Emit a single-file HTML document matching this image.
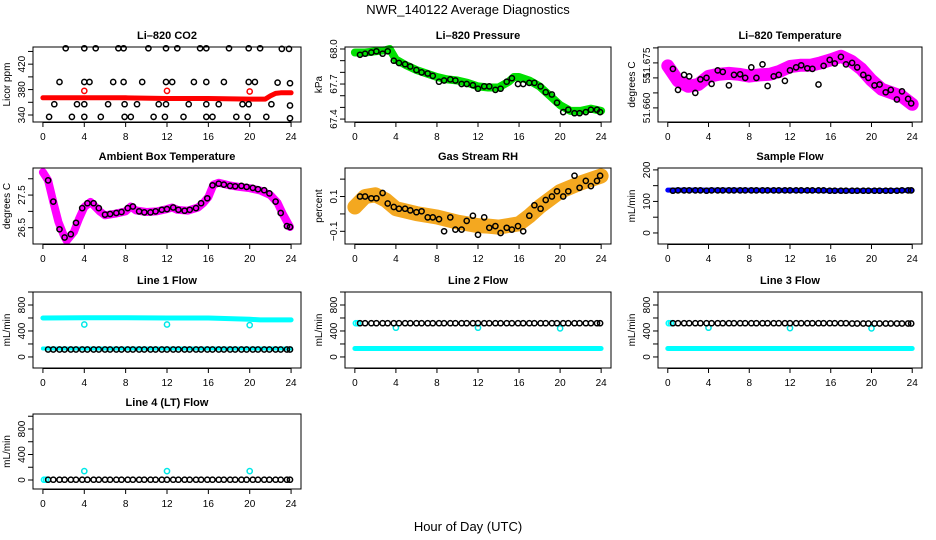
<!DOCTYPE html>
<html><head><meta charset="utf-8"><style>
html,body{margin:0;padding:0;background:#fff;}
svg{display:block;font-family:"Liberation Sans",Arial,sans-serif;}
</style></head><body>
<svg id="c" width="936" height="540" viewBox="0 0 936 540">
<text x="468" y="14" font-size="13" text-anchor="middle">NWR_140122  Average Diagnostics</text>
<text x="468" y="531" font-size="13" text-anchor="middle">Hour of Day (UTC)</text>
</svg>
<script>
// ---- shared hours for black circle series ----
const blackHours = [0.5,1.0,1.6,2.1,2.7,3.2,3.8,4.3,4.9,5.4,6.0,6.5,7.1,7.6,8.2,8.7,9.3,9.8,10.4,10.9,11.5,12.0,12.6,13.1,13.7,14.2,14.8,15.3,15.9,16.4,17.0,17.5,18.1,18.6,19.2,19.7,20.3,20.8,21.4,21.9,22.5,23.0,23.6,23.9];
const xTicks = [0,4,8,12,16,20,24];
const spikeHours = [4,12,20];

// ---- CO2 ----
const co2BandHours = [0,4,8,12,16,20,21.5,22,22.5,23,24];
const co2BandVals = [367,367,367,366,366,365,365,370,374,375,375];
const co2RedVals = [378,378,377];
const co2BlackHours = [2.2,4,5.1,7.3,7.8,10.2,11.9,13,15.2,15.8,18,19.9,21,23.1,23.8, 1.6,4,4.5,6.8,7.8,9.6,11.9,12.5,14.6,15.8,17.5,19.9,20.5,22.7,23.9, 1.1,3.3,4,6.3,7.9,9.1,11.2,11.9,14.1,15.8,17,19.3,19.9,22.1,23.9, 0.6,2.8,4,5.6,7.9,8.5,10.7,11.8,13.6,15.8,16.4,18.7,19.8,21.6,23.9];
const co2BlackVals = [445,445,445,445,445,445,445,445,445,445,445,445,445,444,444, 392,392,392,392,392,392,392,392,392,392,392,392,392,391,390, 357,357,357,357,357,357,357,357,357,357,357,357,357,357,355, 337,337,337,337,337,337,337,337,337,337,337,337,337,337,335];

// ---- Pressure ----
const presBandHours = [0,1,2,3,3.4,4,5,6,7,8,9,10,11,12,13,14,15,15.5,16,17,18,19,20,21,22,23,24];
const presBandVals = [67.97,67.97,67.98,67.99,68.0,67.91,67.86,67.82,67.79,67.76,67.74,67.73,67.71,67.68,67.67,67.67,67.72,67.76,67.76,67.73,67.68,67.60,67.52,67.47,67.47,67.49,67.47];
const presBlackVals = [67.95,67.96,67.97,67.98,67.96,67.98,67.90,67.88,67.87,67.85,67.82,67.80,67.79,67.77,67.72,67.73,67.74,67.73,67.70,67.70,67.69,67.66,67.68,67.68,67.65,67.66,67.72,67.75,67.70,67.70,67.71,67.71,67.68,67.63,67.61,67.54,67.46,67.48,67.45,67.45,67.46,67.48,67.48,67.46];

// ---- Li-820 Temperature ----
const tempBandHours = [0,1,2,3,4,5,6,7,8,9,10,11,12,13,14,15,16,17,18,19,20,21,22,23,24];
const tempBandVals = [51.6740,51.6690,51.6672,51.6678,51.6705,51.6712,51.6715,51.6712,51.6706,51.6710,51.6712,51.6722,51.6738,51.6742,51.6742,51.6750,51.6760,51.6772,51.6756,51.6730,51.6692,51.6662,51.6650,51.6638,51.6612];
const tempBlackVals = [51.6730,51.6660,51.6710,51.6705,51.6650,51.6695,51.6700,51.6680,51.6725,51.6720,51.6675,51.6710,51.6712,51.6700,51.6735,51.6700,51.6745,51.6673,51.6705,51.6710,51.6690,51.6725,51.6735,51.6742,51.6732,51.6730,51.6678,51.6740,51.6760,51.6748,51.6770,51.6745,51.6750,51.6735,51.6710,51.6700,51.6675,51.6678,51.6652,51.6660,51.6628,51.6655,51.6630,51.6615];

// ---- Ambient Box Temperature ----
const ambBandHours = [0,0.5,1,1.5,2,2.3,3,3.5,4,4.6,5.5,6,7,8,8.5,9,10,11,12,12.5,13,14,15,15.5,16,16.5,17,18,19,20,21,22,22.7,23.2,23.9];
const ambBandVals = [28.2,27.95,27.29,26.68,26.28,26.1,26.37,26.78,27.13,27.29,27.0,26.88,26.93,27.0,27.15,27.03,26.98,27.0,27.07,27.12,27.05,27.02,27.12,27.25,27.44,27.82,27.88,27.8,27.75,27.71,27.64,27.5,27.26,26.92,26.52];
const ambBlackVals = [27.95,27.3,26.45,26.2,26.3,26.65,27.1,27.25,27.25,27.1,26.9,26.92,26.95,26.98,27.1,27.15,27.0,26.97,26.97,27.0,27.05,27.07,27.12,27.05,27.02,27.05,27.1,27.25,27.4,27.8,27.85,27.82,27.78,27.77,27.78,27.75,27.72,27.68,27.65,27.55,27.3,26.95,26.55,26.52];

// ---- Gas Stream RH ----
const rhBandHours = [0,1,2,3,4,6,8,10,12,13,14,16,17,18,20,22,24];
const rhBandVals = [0.04,0.10,0.11,0.08,0.03,0.002,-0.018,-0.047,-0.067,-0.07,-0.076,-0.057,-0.012,0.041,0.129,0.178,0.218];
const rhBlackVals = [0.10,0.10,0.09,0.09,0.12,0.06,0.04,0.03,0.03,0.02,0.01,0.015,-0.02,-0.02,-0.03,-0.10,-0.02,-0.09,-0.09,-0.04,-0.01,-0.12,-0.02,-0.08,-0.07,-0.11,-0.08,-0.09,-0.07,-0.10,-0.01,0.05,0.03,0.08,0.10,0.13,0.10,0.13,0.22,0.15,0.19,0.16,0.19,0.22];

// ---- Sample Flow ----
const sfBandHours = [0,6,12,18,24];
const sfBandVals = [136,136,135,134,135];
const sfBlackVals = [134,135,135,135,135,135,134,135,135,135,135,135,135,135,135,135,135,135,135,135,135,135,135,135,135,135,135,135,134,134,134,134,134,134,134,134,134,134,134,134,134,135,135,135];

// ---- Line flows ----
const flowBandHours = [0,4,8,12,16,20,21,24];
const l1BandVals = [600,605,605,600,600,580,570,570];
const l1LowVals = [130,130,130,130,130,130,130,130];
const l1SpikeVals = [500,500,490];
const l1BlackVals = [115,115,115,115,115,115,115,115,115,115,115,115,115,115,115,115,115,115,115,115,115,115,115,115,115,115,115,115,115,115,115,115,115,115,115,115,115,115,115,115,115,115,115,115];
const l2BandVals = [130,130,130,130,130,130,130,130];
const l2SpikeVals = [450,450,440];
const l2BlackVals = [520,520,520,520,520,520,520,520,520,520,520,520,520,520,520,520,520,520,520,520,520,520,520,520,520,520,520,520,520,520,520,520,520,520,520,520,520,520,520,520,520,520,520,520];
const l3BandVals = [130,130,130,130,130,130,130,130];
const l3SpikeVals = [450,445,440];
const l3BlackVals = [520,520,520,520,520,520,520,520,520,520,520,520,520,520,520,520,520,520,520,520,520,520,520,520,520,520,520,520,520,520,520,520,515,515,515,515,515,515,515,515,515,515,515,515];
const l4SpikeVals = [140,140,140];
const l4BlackVals = [5,5,5,5,5,5,5,5,5,5,5,5,5,5,5,5,5,5,5,5,5,5,5,5,5,5,5,5,5,5,5,5,5,5,5,5,5,5,5,5,5,5,5,5];

const NS = "http://www.w3.org/2000/svg";
const svg = document.getElementById('c');
function mk(tag, attrs, parent){ const e=document.createElementNS(NS,tag); for(const k in attrs) e.setAttribute(k,attrs[k]); (parent||svg).appendChild(e); return e; }

const cols=[[33,301],[345,611],[658,922]];
const rows=[[47,122],[168,244],[292,368],[414,489]];

function panel(p){
  const [bx0,bx1]=cols[p.col], [by0,by1]=rows[p.row];
  const g=mk('g',{});
  
  
  const xs=h=>bx0+(h+0.96)/25.92*(bx1-bx0);
  const ys=v=>by1-(v-p.ylim[0])/(p.ylim[1]-p.ylim[0])*(by1-by0);
  const cx=(bx0+bx1)/2;
  const t=mk('text',{x:cx,y:by0-8,'font-size':11,'font-weight':'bold','text-anchor':'middle'},g);
  t.textContent=p.title;
  
  
  const marks=mk('g',{},g);
  
  
  (p.bands||[]).forEach(b=>{
    const pts=b.h.map((h,i)=>xs(h).toFixed(1)+','+ys(b.v[i]).toFixed(1)).join(' ');
    const pl=mk('polyline',{points:pts,fill:'none',stroke:b.color,'stroke-width':b.w,'stroke-linejoin':'round','stroke-linecap':'round'},marks);
    
    
  });
  (p.circles||[]).forEach(s=>{
    s.h.forEach((h,i)=>{
      const c=mk('circle',{cx:xs(h).toFixed(1),cy:ys(s.v[i]).toFixed(1),r:2.6,fill:'none',stroke:s.color,'stroke-width':1.5},marks);
      
      
    });
  });
  const r=mk('rect',{x:bx0,y:by0,width:bx1-bx0,height:by1-by0,fill:'none',stroke:'#000','stroke-width':1},g);
  
  
  xTicks.forEach(h=>{
    mk('line',{x1:xs(h),x2:xs(h),y1:by1,y2:by1+5,stroke:'#000'},g);
    const tl=mk('text',{x:xs(h),y:by1+18,'font-size':10,'text-anchor':'middle'},g);
    tl.textContent=h;
    
    
  });
  mk('line',{x1:xs(0),x2:xs(24),y1:by1+0.5,y2:by1+0.5,stroke:'#000'},g);
  p.yticks.forEach(v=>{ mk('line',{x1:bx0-5,x2:bx0,y1:ys(v),y2:ys(v),stroke:'#000'},g); });
  p.ylabels.forEach((v,i)=>{
    const y=ys(v), x=bx0-8;
    const tl=mk('text',{x:x,y:y,'font-size':10,'text-anchor':'middle',transform:`rotate(-90 ${x} ${y})`},g);
    tl.textContent=p.ylabelText?p.ylabelText[i]:String(v);
    
    
  });
  const yc=(by0+by1)/2, yx=bx0-23;
  const yt=mk('text',{x:yx,y:yc,'font-size':10,'text-anchor':'middle',transform:`rotate(-90 ${yx} ${yc})`},g);
  yt.textContent=p.ytitle;
  
  
}

const flowTicks=[0,200,400,600,800,1000];
panel({name:'co2-panel',col:0,row:0,title:'Li\u2013820 CO2',ytitle:'Licor ppm',ylim:[329,447],yticks:[340,360,380,400,420,440],ylabels:[340,380,420],
  bands:[{h:co2BandHours,v:co2BandVals,color:'#ff0000',w:5}],
  circles:[{h:spikeHours,v:co2RedVals,color:'#ff0000'},{h:co2BlackHours,v:co2BlackVals,color:'#000'}]});
panel({name:'pressure-panel',col:1,row:0,title:'Li\u2013820 Pressure',ytitle:'kPa',ylim:[67.375,68.017],yticks:[67.4,67.5,67.6,67.7,67.8,67.9,68.0],ylabels:[67.4,67.7,68.0],ylabelText:['67.4','67.7','68.0'],
  bands:[{h:presBandHours,v:presBandVals,color:'#00e000',w:8}],
  circles:[{h:blackHours,v:presBlackVals,color:'#000'}]});
panel({name:'temperature-panel',col:2,row:0,title:'Li\u2013820 Temperature',ytitle:'degrees C',ylim:[51.6553,51.6803],yticks:[51.660,51.665,51.670,51.675,51.680],ylabels:[51.660,51.670,51.675],ylabelText:['51.660','51','51.675'],
  bands:[{h:tempBandHours,v:tempBandVals,color:'#ff00ff',w:13}],
  circles:[{h:blackHours,v:tempBlackVals,color:'#000'}]});
panel({name:'ambient-panel',col:0,row:1,title:'Ambient Box Temperature',ytitle:'degrees C',ylim:[26.0,28.33],yticks:[26.5,27.0,27.5,28.0],ylabels:[26.5,27.5],
  bands:[{h:ambBandHours,v:ambBandVals,color:'#ff00ff',w:8}],
  circles:[{h:blackHours,v:ambBlackVals,color:'#000'}]});
panel({name:'rh-panel',col:1,row:1,title:'Gas Stream RH',ytitle:'percent',ylim:[-0.173,0.264],yticks:[-0.1,0,0.1,0.2],ylabels:[-0.1,0.1],ylabelText:['\u22120.1','0.1'],
  bands:[{h:rhBandHours,v:rhBandVals,color:'#f4a820',w:15}],
  circles:[{h:blackHours,v:rhBlackVals,color:'#000'}]});
panel({name:'sample-flow-panel',col:2,row:1,title:'Sample Flow',ytitle:'mL/min',ylim:[-35,206],yticks:[0,50,100,150,200],ylabels:[0,100,200],
  bands:[{h:sfBandHours,v:sfBandVals,color:'#0000ff',w:5}],
  circles:[{h:blackHours,v:sfBlackVals,color:'#000'}]});
panel({name:'line1-flow-panel',col:0,row:2,title:'Line 1 Flow',ytitle:'mL/min',ylim:[-170,1000],yticks:flowTicks,ylabels:[0,400,800],
  bands:[{h:flowBandHours,v:l1BandVals,color:'#00ffff',w:5},{h:flowBandHours,v:l1LowVals,color:'#00ffff',w:4}],
  circles:[{h:spikeHours,v:l1SpikeVals,color:'#00e8e8'},{h:blackHours,v:l1BlackVals,color:'#000'}]});
panel({name:'line2-flow-panel',col:1,row:2,title:'Line 2 Flow',ytitle:'mL/min',ylim:[-170,1000],yticks:flowTicks,ylabels:[0,400,800],
  bands:[{h:flowBandHours,v:l2BandVals,color:'#00ffff',w:5}],
  circles:[{h:[0.1,0.3],v:[520,520],color:'#00ffff'},{h:spikeHours,v:l2SpikeVals,color:'#00e8e8'},{h:blackHours,v:l2BlackVals,color:'#000'}]});
panel({name:'line3-flow-panel',col:2,row:2,title:'Line 3 Flow',ytitle:'mL/min',ylim:[-170,1000],yticks:flowTicks,ylabels:[0,400,800],
  bands:[{h:flowBandHours,v:l3BandVals,color:'#00ffff',w:5}],
  circles:[{h:[0.1,0.3],v:[520,520],color:'#00ffff'},{h:spikeHours,v:l3SpikeVals,color:'#00e8e8'},{h:blackHours,v:l3BlackVals,color:'#000'}]});
panel({name:'line4-flow-panel',col:0,row:3,title:'Line 4 (LT) Flow',ytitle:'mL/min',ylim:[-141,1035],yticks:flowTicks,ylabels:[0,400,800],
  circles:[{h:[0.1,0.3],v:[5,5],color:'#00ffff'},{h:spikeHours,v:l4SpikeVals,color:'#00e8e8'},{h:blackHours,v:l4BlackVals,color:'#000'}]});
</script>
</body></html>
